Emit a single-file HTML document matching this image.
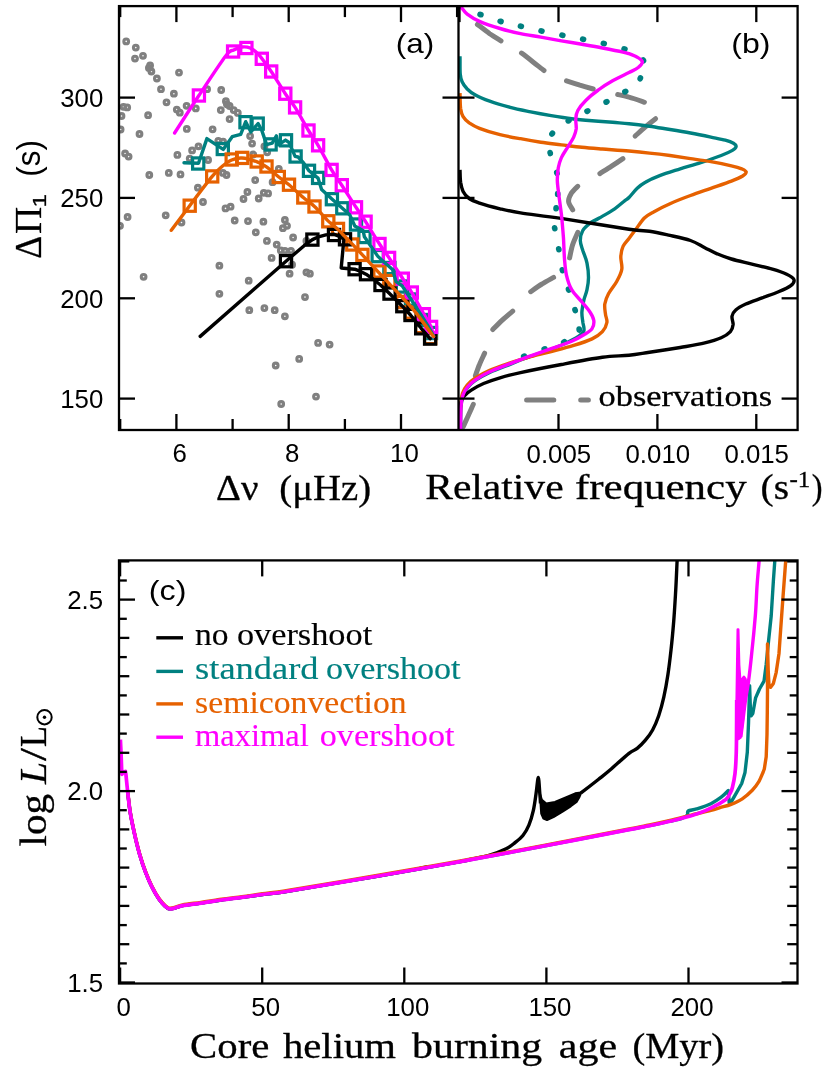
<!DOCTYPE html>
<html><head><meta charset="utf-8"><title>figure</title>
<style>
html,body{margin:0;padding:0;background:#fff;}
body{width:830px;height:1078px;overflow:hidden;font-family:"Liberation Sans",sans-serif;}
svg{display:block;will-change:transform;}
</style></head><body>
<svg width="830" height="1078" viewBox="0 0 830 1078">
<defs>
<clipPath id="clipA"><rect x="119.0" y="6.1" width="339.5" height="423.9"/></clipPath>
<clipPath id="clipB"><rect x="458.5" y="6.1" width="339.1" height="423.9"/></clipPath>
<clipPath id="clipC"><rect x="119.0" y="560.4" width="678.5" height="423.1"/></clipPath>
</defs>
<rect x="0" y="0" width="830" height="1078" fill="#fff"/>
<g clip-path="url(#clipA)">
<circle cx="126.2" cy="41.4" r="2.35" fill="none" stroke="#808080" stroke-width="3.1"/>
<circle cx="135.8" cy="47.6" r="2.35" fill="none" stroke="#808080" stroke-width="3.1"/>
<circle cx="135" cy="58.6" r="2.35" fill="none" stroke="#808080" stroke-width="3.1"/>
<circle cx="143" cy="55.8" r="2.35" fill="none" stroke="#808080" stroke-width="3.1"/>
<circle cx="150.1" cy="65.4" r="2.35" fill="none" stroke="#808080" stroke-width="3.1"/>
<circle cx="148.9" cy="67.9" r="2.35" fill="none" stroke="#808080" stroke-width="3.1"/>
<circle cx="151.4" cy="71.5" r="2.35" fill="none" stroke="#808080" stroke-width="3.1"/>
<circle cx="156.9" cy="78.5" r="2.35" fill="none" stroke="#808080" stroke-width="3.1"/>
<circle cx="179" cy="72.6" r="2.35" fill="none" stroke="#808080" stroke-width="3.1"/>
<circle cx="161" cy="89.2" r="2.35" fill="none" stroke="#808080" stroke-width="3.1"/>
<circle cx="173.9" cy="93.7" r="2.35" fill="none" stroke="#808080" stroke-width="3.1"/>
<circle cx="166.5" cy="102.3" r="2.35" fill="none" stroke="#808080" stroke-width="3.1"/>
<circle cx="207.1" cy="89.2" r="2.35" fill="none" stroke="#808080" stroke-width="3.1"/>
<circle cx="221.2" cy="90" r="2.35" fill="none" stroke="#808080" stroke-width="3.1"/>
<circle cx="186.6" cy="105.8" r="2.35" fill="none" stroke="#808080" stroke-width="3.1"/>
<circle cx="195.8" cy="108.4" r="2.35" fill="none" stroke="#808080" stroke-width="3.1"/>
<circle cx="176.8" cy="109.6" r="2.35" fill="none" stroke="#808080" stroke-width="3.1"/>
<circle cx="179.8" cy="112.7" r="2.35" fill="none" stroke="#808080" stroke-width="3.1"/>
<circle cx="225.9" cy="101.2" r="2.35" fill="none" stroke="#808080" stroke-width="3.1"/>
<circle cx="226.9" cy="104.3" r="2.35" fill="none" stroke="#808080" stroke-width="3.1"/>
<circle cx="229.6" cy="106" r="2.35" fill="none" stroke="#808080" stroke-width="3.1"/>
<circle cx="220.8" cy="110.1" r="2.35" fill="none" stroke="#808080" stroke-width="3.1"/>
<circle cx="233.7" cy="110.1" r="2.35" fill="none" stroke="#808080" stroke-width="3.1"/>
<circle cx="237.8" cy="112.9" r="2.35" fill="none" stroke="#808080" stroke-width="3.1"/>
<circle cx="229.6" cy="119.1" r="2.35" fill="none" stroke="#808080" stroke-width="3.1"/>
<circle cx="123.5" cy="106.8" r="2.35" fill="none" stroke="#808080" stroke-width="3.1"/>
<circle cx="127.2" cy="107.4" r="2.35" fill="none" stroke="#808080" stroke-width="3.1"/>
<circle cx="121.5" cy="116" r="2.35" fill="none" stroke="#808080" stroke-width="3.1"/>
<circle cx="148.1" cy="115.2" r="2.35" fill="none" stroke="#808080" stroke-width="3.1"/>
<circle cx="120.6" cy="129.5" r="2.35" fill="none" stroke="#808080" stroke-width="3.1"/>
<circle cx="139.5" cy="134" r="2.35" fill="none" stroke="#808080" stroke-width="3.1"/>
<circle cx="186.8" cy="128.9" r="2.35" fill="none" stroke="#808080" stroke-width="3.1"/>
<circle cx="212.6" cy="129.3" r="2.35" fill="none" stroke="#808080" stroke-width="3.1"/>
<circle cx="250.1" cy="136.1" r="2.35" fill="none" stroke="#808080" stroke-width="3.1"/>
<circle cx="218.3" cy="140.8" r="2.35" fill="none" stroke="#808080" stroke-width="3.1"/>
<circle cx="223.1" cy="141.6" r="2.35" fill="none" stroke="#808080" stroke-width="3.1"/>
<circle cx="252.1" cy="143.6" r="2.35" fill="none" stroke="#808080" stroke-width="3.1"/>
<circle cx="198.5" cy="146.3" r="2.35" fill="none" stroke="#808080" stroke-width="3.1"/>
<circle cx="192.1" cy="150.4" r="2.35" fill="none" stroke="#808080" stroke-width="3.1"/>
<circle cx="177.4" cy="154.9" r="2.35" fill="none" stroke="#808080" stroke-width="3.1"/>
<circle cx="125.1" cy="153.5" r="2.35" fill="none" stroke="#808080" stroke-width="3.1"/>
<circle cx="128.6" cy="156.6" r="2.35" fill="none" stroke="#808080" stroke-width="3.1"/>
<circle cx="189.7" cy="158.6" r="2.35" fill="none" stroke="#808080" stroke-width="3.1"/>
<circle cx="208.1" cy="160" r="2.35" fill="none" stroke="#808080" stroke-width="3.1"/>
<circle cx="264.4" cy="146.3" r="2.35" fill="none" stroke="#808080" stroke-width="3.1"/>
<circle cx="253.2" cy="154.5" r="2.35" fill="none" stroke="#808080" stroke-width="3.1"/>
<circle cx="267.2" cy="152.3" r="2.35" fill="none" stroke="#808080" stroke-width="3.1"/>
<circle cx="149.3" cy="175" r="2.35" fill="none" stroke="#808080" stroke-width="3.1"/>
<circle cx="168.8" cy="172.9" r="2.35" fill="none" stroke="#808080" stroke-width="3.1"/>
<circle cx="180.5" cy="174.4" r="2.35" fill="none" stroke="#808080" stroke-width="3.1"/>
<circle cx="222.9" cy="172.9" r="2.35" fill="none" stroke="#808080" stroke-width="3.1"/>
<circle cx="226.5" cy="175" r="2.35" fill="none" stroke="#808080" stroke-width="3.1"/>
<circle cx="255.2" cy="180.1" r="2.35" fill="none" stroke="#808080" stroke-width="3.1"/>
<circle cx="278.8" cy="168.8" r="2.35" fill="none" stroke="#808080" stroke-width="3.1"/>
<circle cx="272.6" cy="182.2" r="2.35" fill="none" stroke="#808080" stroke-width="3.1"/>
<circle cx="197.9" cy="187.7" r="2.35" fill="none" stroke="#808080" stroke-width="3.1"/>
<circle cx="247.4" cy="192" r="2.35" fill="none" stroke="#808080" stroke-width="3.1"/>
<circle cx="243.5" cy="199" r="2.35" fill="none" stroke="#808080" stroke-width="3.1"/>
<circle cx="258.7" cy="198.5" r="2.35" fill="none" stroke="#808080" stroke-width="3.1"/>
<circle cx="263.8" cy="192.8" r="2.35" fill="none" stroke="#808080" stroke-width="3.1"/>
<circle cx="268.1" cy="193.4" r="2.35" fill="none" stroke="#808080" stroke-width="3.1"/>
<circle cx="203" cy="202" r="2.35" fill="none" stroke="#808080" stroke-width="3.1"/>
<circle cx="225.5" cy="208.4" r="2.35" fill="none" stroke="#808080" stroke-width="3.1"/>
<circle cx="230.6" cy="206.7" r="2.35" fill="none" stroke="#808080" stroke-width="3.1"/>
<circle cx="165.7" cy="215.3" r="2.35" fill="none" stroke="#808080" stroke-width="3.1"/>
<circle cx="127.6" cy="217" r="2.35" fill="none" stroke="#808080" stroke-width="3.1"/>
<circle cx="120" cy="225.8" r="2.35" fill="none" stroke="#808080" stroke-width="3.1"/>
<circle cx="181.5" cy="222.5" r="2.35" fill="none" stroke="#808080" stroke-width="3.1"/>
<circle cx="234.7" cy="220.5" r="2.35" fill="none" stroke="#808080" stroke-width="3.1"/>
<circle cx="248" cy="221.1" r="2.35" fill="none" stroke="#808080" stroke-width="3.1"/>
<circle cx="263.4" cy="221.7" r="2.35" fill="none" stroke="#808080" stroke-width="3.1"/>
<circle cx="284.9" cy="220" r="2.35" fill="none" stroke="#808080" stroke-width="3.1"/>
<circle cx="282.9" cy="228.2" r="2.35" fill="none" stroke="#808080" stroke-width="3.1"/>
<circle cx="287" cy="225.8" r="2.35" fill="none" stroke="#808080" stroke-width="3.1"/>
<circle cx="255.8" cy="232.3" r="2.35" fill="none" stroke="#808080" stroke-width="3.1"/>
<circle cx="266.9" cy="240.9" r="2.35" fill="none" stroke="#808080" stroke-width="3.1"/>
<circle cx="276.7" cy="244.6" r="2.35" fill="none" stroke="#808080" stroke-width="3.1"/>
<circle cx="280.8" cy="250.4" r="2.35" fill="none" stroke="#808080" stroke-width="3.1"/>
<circle cx="284.9" cy="250.8" r="2.35" fill="none" stroke="#808080" stroke-width="3.1"/>
<circle cx="271.6" cy="257.9" r="2.35" fill="none" stroke="#808080" stroke-width="3.1"/>
<circle cx="219.4" cy="265.7" r="2.35" fill="none" stroke="#808080" stroke-width="3.1"/>
<circle cx="143.6" cy="276.8" r="2.35" fill="none" stroke="#808080" stroke-width="3.1"/>
<circle cx="248.7" cy="280.7" r="2.35" fill="none" stroke="#808080" stroke-width="3.1"/>
<circle cx="219.4" cy="293.8" r="2.35" fill="none" stroke="#808080" stroke-width="3.1"/>
<circle cx="249.3" cy="310.2" r="2.35" fill="none" stroke="#808080" stroke-width="3.1"/>
<circle cx="264.4" cy="308.1" r="2.35" fill="none" stroke="#808080" stroke-width="3.1"/>
<circle cx="274.7" cy="310.2" r="2.35" fill="none" stroke="#808080" stroke-width="3.1"/>
<circle cx="284.9" cy="316.3" r="2.35" fill="none" stroke="#808080" stroke-width="3.1"/>
<circle cx="275.7" cy="365.5" r="2.35" fill="none" stroke="#808080" stroke-width="3.1"/>
<circle cx="281.2" cy="404" r="2.35" fill="none" stroke="#808080" stroke-width="3.1"/>
<circle cx="293.1" cy="237.5" r="2.35" fill="none" stroke="#808080" stroke-width="3.1"/>
<circle cx="291" cy="250.8" r="2.35" fill="none" stroke="#808080" stroke-width="3.1"/>
<circle cx="292.1" cy="264.7" r="2.35" fill="none" stroke="#808080" stroke-width="3.1"/>
<circle cx="289.6" cy="273.7" r="2.35" fill="none" stroke="#808080" stroke-width="3.1"/>
<circle cx="306.4" cy="272.3" r="2.35" fill="none" stroke="#808080" stroke-width="3.1"/>
<circle cx="309.9" cy="273.7" r="2.35" fill="none" stroke="#808080" stroke-width="3.1"/>
<circle cx="305" cy="297.1" r="2.35" fill="none" stroke="#808080" stroke-width="3.1"/>
<circle cx="318.1" cy="342.9" r="2.35" fill="none" stroke="#808080" stroke-width="3.1"/>
<circle cx="329.6" cy="344.6" r="2.35" fill="none" stroke="#808080" stroke-width="3.1"/>
<circle cx="299.2" cy="358.9" r="2.35" fill="none" stroke="#808080" stroke-width="3.1"/>
<circle cx="316" cy="396.6" r="2.35" fill="none" stroke="#808080" stroke-width="3.1"/>
<circle cx="306.4" cy="240.9" r="2.35" fill="none" stroke="#808080" stroke-width="3.1"/>
<rect x="192.6" y="157.9" width="11.2" height="11.2" fill="none" stroke="#008080" stroke-width="3.2"/>
<rect x="217.2" y="143.4" width="11.2" height="11.2" fill="none" stroke="#008080" stroke-width="3.2"/>
<rect x="239.9" y="116.6" width="11.2" height="11.2" fill="none" stroke="#008080" stroke-width="3.2"/>
<rect x="252.1" y="118" width="11.2" height="11.2" fill="none" stroke="#008080" stroke-width="3.2"/>
<rect x="265" y="138.8" width="11.2" height="11.2" fill="none" stroke="#008080" stroke-width="3.2"/>
<rect x="280.4" y="134.7" width="11.2" height="11.2" fill="none" stroke="#008080" stroke-width="3.2"/>
<rect x="290" y="150.9" width="11.2" height="11.2" fill="none" stroke="#008080" stroke-width="3.2"/>
<rect x="303.4" y="165.2" width="11.2" height="11.2" fill="none" stroke="#008080" stroke-width="3.2"/>
<rect x="312.5" y="172.3" width="11.2" height="11.2" fill="none" stroke="#008080" stroke-width="3.2"/>
<rect x="326.3" y="193.6" width="11.2" height="11.2" fill="none" stroke="#008080" stroke-width="3.2"/>
<rect x="336.7" y="202.7" width="11.2" height="11.2" fill="none" stroke="#008080" stroke-width="3.2"/>
<rect x="350.4" y="218.9" width="11.2" height="11.2" fill="none" stroke="#008080" stroke-width="3.2"/>
<rect x="358.9" y="231.4" width="11.2" height="11.2" fill="none" stroke="#008080" stroke-width="3.2"/>
<rect x="372.1" y="250.5" width="11.2" height="11.2" fill="none" stroke="#008080" stroke-width="3.2"/>
<rect x="383.8" y="262.4" width="11.2" height="11.2" fill="none" stroke="#008080" stroke-width="3.2"/>
<rect x="396.4" y="280.9" width="11.2" height="11.2" fill="none" stroke="#008080" stroke-width="3.2"/>
<rect x="405.4" y="293.9" width="11.2" height="11.2" fill="none" stroke="#008080" stroke-width="3.2"/>
<rect x="417.4" y="314.4" width="11.2" height="11.2" fill="none" stroke="#008080" stroke-width="3.2"/>
<rect x="425.4" y="327.4" width="11.2" height="11.2" fill="none" stroke="#008080" stroke-width="3.2"/>
<rect x="184.1" y="200.1" width="11.2" height="11.2" fill="none" stroke="#e66100" stroke-width="3.2"/>
<rect x="206.6" y="170.8" width="11.2" height="11.2" fill="none" stroke="#e66100" stroke-width="3.2"/>
<rect x="226.1" y="153.9" width="11.2" height="11.2" fill="none" stroke="#e66100" stroke-width="3.2"/>
<rect x="236.6" y="152.3" width="11.2" height="11.2" fill="none" stroke="#e66100" stroke-width="3.2"/>
<rect x="251.1" y="155.9" width="11.2" height="11.2" fill="none" stroke="#e66100" stroke-width="3.2"/>
<rect x="260.9" y="160.9" width="11.2" height="11.2" fill="none" stroke="#e66100" stroke-width="3.2"/>
<rect x="273.2" y="171.4" width="11.2" height="11.2" fill="none" stroke="#e66100" stroke-width="3.2"/>
<rect x="283.4" y="179.1" width="11.2" height="11.2" fill="none" stroke="#e66100" stroke-width="3.2"/>
<rect x="297.7" y="191.9" width="11.2" height="11.2" fill="none" stroke="#e66100" stroke-width="3.2"/>
<rect x="308.9" y="200.9" width="11.2" height="11.2" fill="none" stroke="#e66100" stroke-width="3.2"/>
<rect x="322.7" y="215.7" width="11.2" height="11.2" fill="none" stroke="#e66100" stroke-width="3.2"/>
<rect x="332.4" y="223.3" width="11.2" height="11.2" fill="none" stroke="#e66100" stroke-width="3.2"/>
<rect x="346.7" y="238.9" width="11.2" height="11.2" fill="none" stroke="#e66100" stroke-width="3.2"/>
<rect x="356.8" y="249.3" width="11.2" height="11.2" fill="none" stroke="#e66100" stroke-width="3.2"/>
<rect x="373.9" y="265.9" width="11.2" height="11.2" fill="none" stroke="#e66100" stroke-width="3.2"/>
<rect x="383.7" y="275.4" width="11.2" height="11.2" fill="none" stroke="#e66100" stroke-width="3.2"/>
<rect x="396.8" y="296.4" width="11.2" height="11.2" fill="none" stroke="#e66100" stroke-width="3.2"/>
<rect x="405.2" y="306.9" width="11.2" height="11.2" fill="none" stroke="#e66100" stroke-width="3.2"/>
<rect x="415.7" y="321.4" width="11.2" height="11.2" fill="none" stroke="#e66100" stroke-width="3.2"/>
<rect x="424.6" y="332.4" width="11.2" height="11.2" fill="none" stroke="#e66100" stroke-width="3.2"/>
<rect x="280.4" y="255.6" width="11.2" height="11.2" fill="none" stroke="#000" stroke-width="3.2"/>
<rect x="306.8" y="234" width="11.2" height="11.2" fill="none" stroke="#000" stroke-width="3.2"/>
<rect x="328.4" y="229.4" width="11.2" height="11.2" fill="none" stroke="#000" stroke-width="3.2"/>
<rect x="339.4" y="233.7" width="11.2" height="11.2" fill="none" stroke="#000" stroke-width="3.2"/>
<rect x="349" y="263.6" width="11.2" height="11.2" fill="none" stroke="#000" stroke-width="3.2"/>
<rect x="360.4" y="268.6" width="11.2" height="11.2" fill="none" stroke="#000" stroke-width="3.2"/>
<rect x="374.9" y="279.4" width="11.2" height="11.2" fill="none" stroke="#000" stroke-width="3.2"/>
<rect x="383.9" y="288" width="11.2" height="11.2" fill="none" stroke="#000" stroke-width="3.2"/>
<rect x="396.7" y="300.6" width="11.2" height="11.2" fill="none" stroke="#000" stroke-width="3.2"/>
<rect x="404.9" y="309.4" width="11.2" height="11.2" fill="none" stroke="#000" stroke-width="3.2"/>
<rect x="415.6" y="322.7" width="11.2" height="11.2" fill="none" stroke="#000" stroke-width="3.2"/>
<rect x="424.5" y="333" width="11.2" height="11.2" fill="none" stroke="#000" stroke-width="3.2"/>
<rect x="193.3" y="89.9" width="11.2" height="11.2" fill="none" stroke="#ff00ff" stroke-width="3.2"/>
<rect x="227.5" y="45.9" width="11.2" height="11.2" fill="none" stroke="#ff00ff" stroke-width="3.2"/>
<rect x="240.8" y="42.4" width="11.2" height="11.2" fill="none" stroke="#ff00ff" stroke-width="3.2"/>
<rect x="256.2" y="53.2" width="11.2" height="11.2" fill="none" stroke="#ff00ff" stroke-width="3.2"/>
<rect x="265.6" y="65.9" width="11.2" height="11.2" fill="none" stroke="#ff00ff" stroke-width="3.2"/>
<rect x="279.7" y="88.1" width="11.2" height="11.2" fill="none" stroke="#ff00ff" stroke-width="3.2"/>
<rect x="289.5" y="101.8" width="11.2" height="11.2" fill="none" stroke="#ff00ff" stroke-width="3.2"/>
<rect x="302.9" y="124.9" width="11.2" height="11.2" fill="none" stroke="#ff00ff" stroke-width="3.2"/>
<rect x="312.5" y="139.7" width="11.2" height="11.2" fill="none" stroke="#ff00ff" stroke-width="3.2"/>
<rect x="326" y="164.3" width="11.2" height="11.2" fill="none" stroke="#ff00ff" stroke-width="3.2"/>
<rect x="336.2" y="179.6" width="11.2" height="11.2" fill="none" stroke="#ff00ff" stroke-width="3.2"/>
<rect x="350.4" y="201.7" width="11.2" height="11.2" fill="none" stroke="#ff00ff" stroke-width="3.2"/>
<rect x="360" y="216.1" width="11.2" height="11.2" fill="none" stroke="#ff00ff" stroke-width="3.2"/>
<rect x="373.9" y="238.4" width="11.2" height="11.2" fill="none" stroke="#ff00ff" stroke-width="3.2"/>
<rect x="383.5" y="252.3" width="11.2" height="11.2" fill="none" stroke="#ff00ff" stroke-width="3.2"/>
<rect x="397.2" y="273.1" width="11.2" height="11.2" fill="none" stroke="#ff00ff" stroke-width="3.2"/>
<rect x="406.2" y="286.9" width="11.2" height="11.2" fill="none" stroke="#ff00ff" stroke-width="3.2"/>
<rect x="418.3" y="308.6" width="11.2" height="11.2" fill="none" stroke="#ff00ff" stroke-width="3.2"/>
<rect x="425.5" y="321.3" width="11.2" height="11.2" fill="none" stroke="#ff00ff" stroke-width="3.2"/>
<path d="M200.2 336.4 L286 261.2 L304.1 245.7 L312.4 239.6 L318.5 236.8 L325.8 234.9 L334.2 234.3 L340.2 236.7 L343.9 239.1 L341.2 268 L354.6 269.2 L360 271.2 L366 274.2 L373 279 L380.5 285 L389.5 293.6 L402.3 306.2 L410.5 315 L421.2 328.3 L430.1 338.6" fill="none" stroke="#000" stroke-width="3.4" stroke-linejoin="round" stroke-linecap="round"/>
<path d="M174.6 133 C178.7 126.8 190.4 108.3 198.9 95.5 C207.4 82.7 219.7 63.8 225.5 56.2 C231.3 48.6 231 51.5 233.7 50 C236.4 48.5 239.2 47.3 241.9 47 C244.6 46.7 247.4 46.8 250.1 48 C252.8 49.2 254.8 50.2 258.3 54.1 C261.8 58 266.7 64.9 271.2 71.5 C275.7 78.1 281.3 87.7 285.3 93.7 C289.3 99.7 291.2 101.3 295.1 107.4 C299 113.5 304.7 124.2 308.5 130.5 C312.3 136.8 314.2 138.7 318.1 145.3 C322 151.9 327.7 163.2 331.6 169.9 C335.6 176.6 337.7 179 341.8 185.2 C345.9 191.4 352 201.2 356 207.3 C360 213.4 361.7 215.6 365.6 221.7 C369.5 227.8 375.6 238 379.5 244 C383.4 250 385.2 252.1 389.1 257.9 C393 263.7 399 272.9 402.8 278.7 C406.6 284.5 408.3 286.6 411.8 292.5 C415.3 298.4 420.7 308.5 423.9 314.2 C427.1 319.9 429.5 323.2 431.1 326.9 C432.7 330.6 433.1 334.9 433.5 336.5" fill="none" stroke="#ff00ff" stroke-width="3.4" stroke-linejoin="round" stroke-linecap="round"/>
<path d="M184 162.8 L198.5 163.3 L206.9 138.6 L223.2 149.4 L232.2 136.7 L240.7 134.3 L245.7 121.7 L250.9 131.9 L258.1 123.5 L261.7 130.1 L266.6 144.6 L272.2 143.1 L276.4 135.9 L278.3 144.9 L285.5 140.1 L289.1 142.5 L295.1 156.4 L298.1 157 L303.6 163 L309 170.8 L318 178.1 L321.6 189.5 L331.9 198.9 L342.1 207.9 L349.9 215.1 L354.8 226 L363.2 230.8 L364.4 236.8 L377.7 256.1 L381.7 260 L392.5 269.6 L396.1 281.7 L402.2 285.9 L413 302.2 L427.5 325.1 L433.5 335.9" fill="none" stroke="#008080" stroke-width="3.4" stroke-linejoin="round" stroke-linecap="round"/>
<path d="M171.3 230.3 C174.4 226.2 182.9 214.7 189.7 205.7 C196.5 196.7 206.8 182.9 212.2 176.4 C217.6 169.9 218.8 169.2 222 166.5 C225.2 163.8 228.4 161.4 231.7 160 C235 158.6 237.8 157.7 241.9 158 C246.1 158.3 252.5 160.2 256.6 161.7 C260.7 163.2 262.8 164.2 266.5 166.8 C270.2 169.4 275.1 174 278.8 177 C282.6 180 284.9 181.3 289 184.7 C293.1 188.1 299.1 193.9 303.3 197.5 C307.6 201.1 310.3 202.6 314.5 206.5 C318.7 210.4 324.4 217.3 328.3 221.1 C332.2 224.9 334 225.6 338 229.4 C342 233.2 348.2 239.9 352.3 244.2 C356.4 248.4 357.5 249.7 362.4 254.9 C367.3 260.1 375.5 269 381.7 275.7 C387.9 282.4 394.4 289.1 399.8 294.9 C405.2 300.7 408.6 303.7 414.2 310.6 C419.8 317.5 430.3 332.2 433.5 336.5" fill="none" stroke="#e66100" stroke-width="3.4" stroke-linejoin="round" stroke-linecap="round"/>
</g>
<g clip-path="url(#clipB)">
<path d="M477.4 24.4 C479.5 26 485.8 30.9 489.7 33.7 C493.7 36.4 499.1 39.6 501 40.8" fill="none" stroke="#808080" stroke-width="5.0" stroke-linecap="round"/>
<path d="M521.5 53.1 C523.4 54.5 529 58.8 532.7 61.7 C536.5 64.6 542.1 69.1 544 70.5" fill="none" stroke="#808080" stroke-width="5.0" stroke-linecap="round"/>
<path d="M566.5 80.8 C568.8 81.5 575.4 83.7 579.9 85.1 C584.3 86.4 590.9 88.3 593.2 89" fill="none" stroke="#808080" stroke-width="5.0" stroke-linecap="round"/>
<path d="M617.7 94.5 C619.6 94.9 624.6 95.9 629 97.2 C633.5 98.4 641.8 101.4 644.4 102.3" fill="none" stroke="#808080" stroke-width="5.0" stroke-linecap="round"/>
<path d="M655.6 118.7 C653.9 120 648.8 124 645.4 126.9 C642 129.8 636.9 134.5 635.1 136.1" fill="none" stroke="#808080" stroke-width="5.0" stroke-linecap="round"/>
<path d="M622.9 158.6 C621 159.9 615.4 163.7 611.6 166.2 C607.8 168.7 601.9 172.3 599.9 173.6" fill="none" stroke="#808080" stroke-width="5.0" stroke-linecap="round"/>
<path d="M577.8 186.3 C576.7 187.4 572.8 190.9 571.2 193.4 C569.7 196 568.3 198.9 568.6 201.6 C568.8 204.3 572 208.4 572.7 209.8" fill="none" stroke="#808080" stroke-width="5.0" stroke-linecap="round"/>
<path d="M577.8 232.3 C577 234.4 574 240.4 572.7 244.6 C571.3 248.9 570.1 255.7 569.6 257.9" fill="none" stroke="#808080" stroke-width="5.0" stroke-linecap="round"/>
<path d="M553.6 277.4 C551.7 278.5 545.8 281.6 542 284 C538.1 286.3 532.6 290.4 530.7 291.7" fill="none" stroke="#808080" stroke-width="5.0" stroke-linecap="round"/>
<path d="M512.7 311.2 C510.9 312.7 505.3 317.3 502 320.4 C498.7 323.5 494.3 328.1 492.8 329.6" fill="none" stroke="#808080" stroke-width="5.0" stroke-linecap="round"/>
<path d="M484.6 353.2 C483.8 355.1 481 360.7 479.5 364.5 C477.9 368.2 476.1 373.8 475.4 375.7" fill="none" stroke="#808080" stroke-width="5.0" stroke-linecap="round"/>
<path d="M473.3 404.4 C472.5 406.3 469.9 411.9 468.2 415.7 C466.5 419.4 464 425.1 463.1 426.9" fill="none" stroke="#808080" stroke-width="5.0" stroke-linecap="round"/>
<path d="M460 56.2 C460.1 59.1 459.9 69.3 460.2 73.6 C460.6 77.9 460.9 79.2 462.1 81.8 C463.2 84.3 465 86.7 467.2 89 C469.4 91.2 471.6 93.1 475.4 95.1 C479.1 97.2 483.9 99.2 489.7 101.2 C495.5 103.3 503.4 105.6 510.2 107.4 C517 109.2 523.9 110.5 530.7 111.9 C537.5 113.3 544.3 114.5 551.2 115.6 C558 116.7 564.8 117.8 571.7 118.7 C578.5 119.5 585.3 120.1 592.1 120.7 C599 121.3 606.5 121.8 612.6 122.3 C618.8 122.9 622.9 123.1 629 123.8 C635.2 124.4 642.7 125.3 649.5 126.2 C656.3 127.2 663.1 128.4 670 129.5 C676.8 130.6 683.6 131.7 690.5 133 C697.3 134.3 705.1 135.9 710.9 137.1 C716.7 138.3 721.5 139.1 725.3 140.2 C729 141.2 731.7 142.2 733.5 143.2 C735.3 144.3 736.3 145.1 736.1 146.3 C736 147.5 734.9 148.9 732.4 150.4 C729.9 151.9 726.5 153.5 721.2 155.5 C715.9 157.6 707.5 160.5 700.7 162.7 C693.9 164.9 687 166.7 680.2 168.8 C673.4 171 665.5 173.4 659.7 175.6 C653.9 177.8 649.1 180 645.4 182.2 C641.6 184.3 639.9 185.7 637.2 188.3 C634.5 190.9 631 195.5 629 197.5 C627 199.6 627.3 198.7 624.9 200.6 C622.5 202.5 618.9 205.9 614.7 208.8 C610.4 211.7 603.4 215.6 599.3 218 C595.2 220.4 592.8 221.1 590.1 223.1 C587.4 225.2 584.6 227.4 582.9 230.3 C581.3 233.2 580.3 237.1 580.3 240.5 C580.3 243.9 581.8 247 582.9 250.8 C584.1 254.5 586.1 258.6 587 263.1 C587.9 267.5 588.5 273 588.5 277.4 C588.5 281.8 587.8 285.9 587 289.7 C586.3 293.4 584.8 296.2 583.9 299.9 C583.1 303.7 582.1 308.5 581.9 312.2 C581.7 316 582.6 319.4 582.9 322.5 C583.3 325.5 584.6 328.4 583.9 330.7 C583.3 332.9 582.1 334 578.8 336.2 C575.5 338.4 569.8 341.4 564.1 344 C558.4 346.5 551.3 349.1 544.6 351.6 C538 354 529.9 356.6 524.1 358.7 C518.4 360.8 515.9 362 510.2 364.3 C504.5 366.5 495.5 369.7 489.7 372.4 C483.9 375.1 479.1 377.9 475.4 380.4 C471.7 383 469.7 385.1 467.6 387.6 C465.6 390.1 464.2 392.2 463.1 395.4 C462 398.5 461.5 400.7 461 406.4 C460.6 412.2 460.7 426.1 460.6 430" fill="none" stroke="#008080" stroke-width="3.4" stroke-linejoin="round"/>
<path d="M460 93.1 C460.1 95.6 460.1 104.5 460.6 108.4 C461.2 112.3 461.7 114.2 463.1 116.6 C464.5 119 466.5 120.8 469.2 122.8 C472 124.7 474.4 126.3 479.5 128.3 C484.6 130.3 493.1 132.9 500 134.6 C506.8 136.4 513.6 137.5 520.5 138.7 C527.3 140 534.1 141.2 540.9 142.2 C547.8 143.2 554.6 144 561.4 144.9 C568.2 145.7 575.1 146.7 581.9 147.3 C588.7 148 594.5 148.4 602.4 149 C610.2 149.6 621.2 150.3 629 151 C636.9 151.7 642.7 152.3 649.5 153.1 C656.3 153.8 663.1 154.6 670 155.5 C676.8 156.5 683.6 157.6 690.5 158.6 C697.3 159.6 704.1 160.5 710.9 161.7 C717.8 162.9 726.3 164.6 731.4 165.8 C736.5 167 739.2 167.8 741.7 168.8 C744.1 169.9 746 170.7 746.2 171.9 C746.3 173.1 745.1 174.5 742.7 176 C740.2 177.5 736.7 179.1 731.4 181.1 C726.1 183.2 717.8 185.9 710.9 188.3 C704.1 190.7 697.3 192.9 690.5 195.5 C683.6 198 676.1 200.9 670 203.7 C663.8 206.4 657.8 209.5 653.6 211.9 C649.3 214.2 647.4 214.9 644.4 218 C641.3 221.1 637.7 226.9 635.1 230.3 C632.6 233.7 631 235.8 629 238.5 C627 241.2 624.2 243.6 622.9 246.7 C621.5 249.7 621 253.2 620.8 256.9 C620.6 260.7 622.5 265.1 621.8 269.2 C621.2 273.3 618.9 277.4 616.7 281.5 C614.5 285.6 610.5 290 608.5 293.8 C606.5 297.5 605.4 300.6 604.8 304 C604.3 307.4 605.1 311.2 605.5 314.3 C605.8 317.3 607.4 319.6 606.9 322.5 C606.4 325.4 604.8 329 602.4 331.7 C599.9 334.4 596.9 336.6 592.1 338.9 C587.4 341.1 580.5 343.3 573.7 345.4 C566.9 347.5 558.3 349.7 551.2 351.6 C544 353.4 537.5 354.8 530.7 356.7 C523.9 358.6 517 360.6 510.2 362.8 C503.4 365.1 495.5 367.7 489.7 370.2 C483.9 372.7 479.1 375.5 475.4 378 C471.6 380.5 469.3 382.6 467.2 385.1 C465 387.7 463.6 390 462.5 393.3 C461.4 396.7 461 399.3 460.6 405.4 C460.3 411.5 460.3 425.9 460.2 430" fill="none" stroke="#e66100" stroke-width="3.4" stroke-linejoin="round"/>
<ellipse cx="480.5" cy="14.6" rx="3.3" ry="2.9" fill="#008080" transform="rotate(14 480.5 14.6)"/>
<ellipse cx="500.6" cy="21.4" rx="3.3" ry="2.9" fill="#008080" transform="rotate(14 500.6 21.4)"/>
<ellipse cx="520.9" cy="26.3" rx="3.3" ry="2.9" fill="#008080" transform="rotate(14 520.9 26.3)"/>
<ellipse cx="541.5" cy="31" rx="3.3" ry="2.9" fill="#008080" transform="rotate(14 541.5 31)"/>
<ellipse cx="562.4" cy="35.3" rx="3.3" ry="2.9" fill="#008080" transform="rotate(14 562.4 35.3)"/>
<ellipse cx="583.1" cy="39.2" rx="3.3" ry="2.9" fill="#008080" transform="rotate(14 583.1 39.2)"/>
<ellipse cx="603.8" cy="43.5" rx="3.3" ry="2.9" fill="#008080" transform="rotate(14 603.8 43.5)"/>
<ellipse cx="624.5" cy="49" rx="3.3" ry="2.9" fill="#008080" transform="rotate(14 624.5 49)"/>
<ellipse cx="643.3" cy="60.3" rx="3.3" ry="2.9" fill="#008080" transform="rotate(60 643.3 60.3)"/>
<ellipse cx="640.3" cy="78.3" rx="3.3" ry="2.9" fill="#008080" transform="rotate(110 640.3 78.3)"/>
<ellipse cx="625.3" cy="91.6" rx="3.3" ry="2.9" fill="#008080" transform="rotate(-28 625.3 91.6)"/>
<ellipse cx="606.5" cy="101.9" rx="3.3" ry="2.9" fill="#008080" transform="rotate(-28 606.5 101.9)"/>
<ellipse cx="587.4" cy="111.1" rx="3.3" ry="2.9" fill="#008080" transform="rotate(-27 587.4 111.1)"/>
<ellipse cx="568.6" cy="120.7" rx="3.3" ry="2.9" fill="#008080" transform="rotate(-30 568.6 120.7)"/>
<ellipse cx="552.2" cy="133.6" rx="3.3" ry="2.9" fill="#008080" transform="rotate(-50 552.2 133.6)"/>
<ellipse cx="550.2" cy="153.1" rx="3.3" ry="2.9" fill="#008080" transform="rotate(80 550.2 153.1)"/>
<ellipse cx="556.9" cy="172.9" rx="3.3" ry="2.9" fill="#008080" transform="rotate(70 556.9 172.9)"/>
<ellipse cx="557.7" cy="194" rx="3.3" ry="2.9" fill="#008080" transform="rotate(90 557.7 194)"/>
<ellipse cx="556.1" cy="208.2" rx="3.3" ry="2.9" fill="#008080" transform="rotate(95 556.1 208.2)"/>
<ellipse cx="554.7" cy="228.2" rx="3.3" ry="2.9" fill="#008080" transform="rotate(80 554.7 228.2)"/>
<ellipse cx="558.8" cy="249.3" rx="3.3" ry="2.9" fill="#008080" transform="rotate(80 558.8 249.3)"/>
<ellipse cx="562.4" cy="270.2" rx="3.3" ry="2.9" fill="#008080" transform="rotate(78 562.4 270.2)"/>
<ellipse cx="568.6" cy="289.7" rx="3.3" ry="2.9" fill="#008080" transform="rotate(72 568.6 289.7)"/>
<ellipse cx="575.1" cy="310.2" rx="3.3" ry="2.9" fill="#008080" transform="rotate(72 575.1 310.2)"/>
<ellipse cx="579.2" cy="329.6" rx="3.3" ry="2.9" fill="#008080" transform="rotate(85 579.2 329.6)"/>
<ellipse cx="564.1" cy="341.9" rx="3.3" ry="2.9" fill="#008080" transform="rotate(-30 564.1 341.9)"/>
<ellipse cx="544.6" cy="349.1" rx="3.3" ry="2.9" fill="#008080" transform="rotate(-20 544.6 349.1)"/>
<ellipse cx="524.1" cy="356.3" rx="3.3" ry="2.9" fill="#008080" transform="rotate(-20 524.1 356.3)"/>
<path d="M460 169.9 C460.1 171.9 460.1 178.6 460.6 182.2 C461.2 185.7 461.7 188.6 463.1 191.4 C464.5 194.1 466.5 196.6 469.2 198.5 C472 200.5 474.4 201.3 479.5 203.1 C484.6 204.8 493.1 207.1 500 208.8 C506.8 210.4 510.3 211.3 520.5 212.9 C530.6 214.5 542.9 215.7 561 218.4 C579.1 221.1 614.3 227.1 629 229.3 C643.8 231.4 642.7 230.3 649.5 231.3 C656.3 232.3 663.1 233.9 670 235.4 C676.8 236.9 684.6 238.5 690.5 240.5 C696.3 242.6 700.4 245.5 704.8 247.7 C709.2 249.9 712.6 252 717.1 253.8 C721.5 255.7 725.6 257.3 731.4 259 C737.2 260.7 745.1 262.4 751.9 264.1 C758.7 265.8 766.6 267.5 772.4 269.2 C778.2 270.9 783.1 272.6 786.7 274.3 C790.3 276 793.2 277.6 793.9 279.5 C794.6 281.3 793.4 283.5 790.8 285.6 C788.3 287.6 783.3 289.7 778.5 291.7 C773.7 293.8 767.6 295.8 762.1 297.9 C756.7 299.9 750.2 302 745.8 304 C741.3 306.1 737.8 308.1 735.5 310.2 C733.2 312.2 732.4 313.9 732 316.3 C731.6 318.7 733.3 322 733.1 324.5 C732.8 327.1 732.4 329.5 730.4 331.7 C728.4 333.9 725.4 336 721.2 337.8 C716.9 339.7 711.6 341.3 704.8 342.9 C698 344.6 689.4 345.9 680.2 347.5 C671 349 658 350.9 649.5 352.2 C640.9 353.5 636.8 354.4 629 355.2 C621.2 356.1 613.6 355.8 602.4 357.3 C591.1 358.8 575.1 361.9 561.4 364.5 C547.8 367 530.7 370.4 520.5 372.6 C510.2 374.9 506.1 376 500 377.8 C493.8 379.6 488.4 381.5 483.6 383.5 C478.8 385.6 474.5 387.9 471.3 390.1 C468 392.2 465.8 394.2 464.1 396.2 C462.4 398.3 461.7 399.6 461 402.4 C460.4 405.1 460.3 408 460 412.6 C459.8 417.2 459.7 427.1 459.6 430" fill="none" stroke="#000" stroke-width="3.4" stroke-linejoin="round"/>
<path d="M459.6 6 C459.9 6.2 459.8 5.7 461 7 C462.3 8.4 464.1 11.8 467.2 14.2 C470.3 16.6 474 19 479.5 21.4 C484.9 23.8 493.1 26.5 500 28.5 C506.8 30.6 513.6 32.2 520.5 33.7 C527.3 35.1 534.1 35.9 540.9 37.1 C547.8 38.3 554.6 39.6 561.4 40.8 C568.2 42 575.1 43.1 581.9 44.3 C588.7 45.5 595.6 46.7 602.4 48 C609.2 49.3 618.4 51.1 622.9 52.1 C627.3 53 626.6 52.9 629 53.7 C631.4 54.6 635 55.9 637.2 57.2 C639.4 58.5 642.1 60 642.3 61.7 C642.5 63.4 640.4 65.6 638.2 67.5 C636 69.3 633.3 70.4 629 72.6 C624.7 74.8 617.7 77.9 612.6 80.8 C607.5 83.7 602.7 86.7 598.3 90 C593.8 93.2 589.4 96.8 586 100.2 C582.6 103.6 579.5 107.4 577.8 110.5 C576.1 113.5 576 115.6 575.8 118.7 C575.5 121.7 576.5 125.8 576.2 128.9 C575.8 132 575.1 134 573.7 137.1 C572.3 140.2 569.6 143.9 567.6 147.3 C565.5 150.7 563 154.2 561.4 157.6 C559.9 161 559 164.1 558.3 167.8 C557.7 171.6 557.3 175.7 557.3 180.1 C557.4 184.5 558.2 190 558.8 194.4 C559.3 198.9 559.9 202.8 560.4 206.7 C560.9 210.7 561.3 212.7 561.8 218 C562.3 223.3 563 231.7 563.5 238.5 C563.9 245.3 564 252.8 564.5 259 C565 265.1 565.3 270.2 566.5 275.4 C567.7 280.5 569.1 285.3 571.7 289.7 C574.2 294.1 578.8 298.2 581.9 302 C585 305.7 588.1 309.2 590.1 312.2 C592.1 315.3 593.4 317.7 593.8 320.4 C594.1 323.1 593.8 326.2 592.1 328.6 C590.5 331 587.4 332.6 583.9 334.8 C580.5 336.9 577.1 339 571.7 341.3 C566.2 343.6 558 346.3 551.2 348.7 C544.3 351.1 537.5 353.4 530.7 355.9 C523.9 358.3 517 361 510.2 363.6 C503.4 366.3 495.5 369.1 489.7 371.8 C483.9 374.5 479.1 377.3 475.4 379.8 C471.7 382.3 469.7 384.5 467.6 387 C465.6 389.5 464.2 391.5 463.1 394.8 C462 398 461.5 400.4 461 406.4 C460.6 412.5 460.7 426.9 460.6 431" fill="none" stroke="#ff00ff" stroke-width="3.4" stroke-linejoin="round"/>
</g>
<path d="M526.6 399.9 H553.8" stroke="#808080" stroke-width="5.0" stroke-linecap="round"/>
<path d="M580.7 399.9 H588.4" stroke="#808080" stroke-width="5.0" stroke-linecap="round"/>
<text x="598.6" y="406.4" font-family="'Liberation Serif',serif" font-size="30" textLength="173.5" lengthAdjust="spacingAndGlyphs" stroke="#000" stroke-width="0.3">observations</text>
<g clip-path="url(#clipC)">
<path d="M127.8 793 C128.2 796.3 129.2 806.3 130.3 813 C131.4 819.7 132.9 826.6 134.4 833.4 C135.9 840.2 137.6 847.4 139.5 853.9 C141.4 860.4 143.5 866.9 145.6 872.4 C147.7 877.9 149.6 882.3 151.8 886.7 C154 891.1 156.7 895.8 158.9 899 C161.1 902.2 163.4 904.6 165.1 906.2 C166.8 907.8 167.7 908.5 169.2 908.8 C170.7 909.1 172.1 908.7 174.3 908.2 C176.5 907.7 178.1 906.5 182.5 905.6 C186.9 904.8 194.4 904 200.9 903.1 C207.4 902.2 214.6 901 221.4 900 C228.2 899 235.1 898.3 241.9 897.4 C248.7 896.5 254.5 895.6 262.4 894.5 C270.2 893.4 270.4 894 289 891 C307.6 888 345.7 881.6 374 876.7 C402.3 871.9 443 864.8 459 861.9 C475 859 464.9 860.6 470 859.5 C475.1 858.4 483.7 857 489.7 855.2 C495.7 853.4 502 850.8 506.1 848.8 C510.2 846.8 511.7 845.4 514.5 843.1 C517.3 840.8 520.7 838.2 523.1 835.2 C525.5 832.2 527.2 829.2 528.9 825.1 C530.6 821 532.1 815.9 533.3 810.6 C534.5 805.3 535.3 798.8 536.1 793.3 C536.9 787.8 537.7 777.5 538.3 777.5 C538.9 777.5 539.4 789 539.8 793.3 C540.2 797.6 540.4 801.7 540.5 803.4" fill="none" stroke="#000" stroke-width="3.4" stroke-linejoin="round"/>
<path d="M539.2 790 L539.8 793.3 L541.9 799.8 L546.3 803.4 L554.9 801.9 L565.1 797.6 L575.2 793.3 L581 792.5 L581 793.3 L579.5 796.9 L576.6 801.9 L570.8 806.3 L562.2 812 L553.5 817.1 L547 820 L543.4 818.6 L541.2 813.5 L540.5 803.4 L539.8 793.3Z" fill="#000" stroke="#000" stroke-width="2.0" stroke-linejoin="round"/>
<path d="M581 792.9 C583.9 790.7 593.4 783.4 598.3 779.5 C603.2 775.6 605.5 773.9 610.6 769.5 C615.7 765.1 624.6 756.8 629 753.3 C633.4 749.8 634.5 750.6 637.2 748.4 C639.9 746.2 642.8 743.3 645.4 740.2 C648 737.1 650.4 734.1 652.6 730 C654.8 725.9 656.8 721.2 658.7 715.7 C660.6 710.2 662.3 704 663.8 697.2 C665.3 690.4 666.7 682.6 667.9 674.7 C669.1 666.9 670 659 671 650.1 C672 641.2 672.9 631.4 673.7 621.5 C674.5 611.6 675.1 600.8 675.7 590.7 C676.3 580.6 676.8 567 677.1 561 C677.4 555 677.4 556 677.4 555" fill="none" stroke="#000" stroke-width="3.4" stroke-linejoin="round"/>
<path d="M408 870.5 L427.5 866 L428.5 867" fill="none" stroke="#000" stroke-width="2.0" stroke-linejoin="round"/>
<path d="M127.8 793 C128.2 796.3 129.2 806.3 130.3 813 C131.4 819.7 132.9 826.6 134.4 833.4 C135.9 840.2 137.6 847.4 139.5 853.9 C141.4 860.4 143.5 866.9 145.6 872.4 C147.7 877.9 149.6 882.3 151.8 886.7 C154 891.1 156.7 895.8 158.9 899 C161.1 902.2 163.4 904.6 165.1 906.2 C166.8 907.8 167.7 908.5 169.2 908.8 C170.7 909.1 172.1 908.7 174.3 908.2 C176.5 907.7 178.1 906.5 182.5 905.6 C186.9 904.8 194.4 904 200.9 903.1 C207.4 902.2 214.6 901 221.4 900 C228.2 899 235.1 898.3 241.9 897.4 C248.7 896.5 254.5 895.6 262.4 894.5 C270.2 893.4 270.4 894 289 891 C307.6 888 345.7 881.6 374 876.7 C402.3 871.9 430.7 867 459 861.9 C487.3 856.8 515.7 851.4 544 846 C572.3 840.6 611.4 833 629 829.6 C646.6 826.2 642.7 827.1 649.5 825.7 C656.3 824.3 664.6 822.4 670 821.2 C675.4 820 679.1 819.3 682 818.3 C684.9 817.3 686.4 816.2 687.4 815 C688.4 813.8 686.7 812 688.2 811 C689.7 810 692.8 810.1 696.6 808.9 C700.4 807.7 706.8 805.7 710.9 803.7 C715 801.8 718.3 799.4 721.2 797.2 C724.1 795 727.1 791.6 728.3 790.5 L728.3 790.5 L729.2 802.8 L731.1 802.2 L736.7 792.4 L741.7 783.5 L745 772.4 L747.3 752.3 L748.5 723.4 L749.2 700 L749.6 685.6 L750.4 709 L751.2 715.7 L752.8 713.5 L755.6 697.9 L759.5 689 L764 681.2 L766.2 664.5 L768.4 642.3 L771.2 616 L773.4 580.5 L774.8 561 L775.1 555" fill="none" stroke="#008080" stroke-width="3.4" stroke-linejoin="round"/>
<path d="M127.8 792.3 C128.2 795.6 129.2 805.6 130.3 812.3 C131.4 819 132.9 825.9 134.4 832.7 C135.9 839.5 137.6 846.7 139.5 853.2 C141.4 859.7 143.5 866.2 145.6 871.7 C147.7 877.2 149.6 881.6 151.8 886 C154 890.4 156.7 895 158.9 898.3 C161.1 901.5 163.4 903.9 165.1 905.5 C166.8 907.1 167.7 907.8 169.2 908.1 C170.7 908.4 172.1 908 174.3 907.5 C176.5 907 178.1 905.8 182.5 904.9 C186.9 904 194.4 903.3 200.9 902.4 C207.4 901.5 214.6 900.2 221.4 899.3 C228.2 898.3 235.1 897.6 241.9 896.7 C248.7 895.8 254.5 894.9 262.4 893.8 C270.2 892.7 270.4 893.3 289 890.3 C307.6 887.3 345.7 880.9 374 876 C402.3 871.1 430.7 866.3 459 861.2 C487.3 856.1 515.7 850.7 544 845.3 C572.3 839.9 611.4 832.3 629 828.9 C646.6 825.5 642.7 826.4 649.5 825 C656.3 823.6 663.2 822.1 670 820.5 C676.8 818.9 683.6 817 690.4 815.3 C697.2 813.6 706 811.6 710.9 810.3 C715.8 809 716.6 808.6 720 807.6 C723.4 806.6 727.4 805.8 731.1 804.3 C734.8 802.8 738.8 801.1 742.3 798.8 C745.8 796.4 749.5 793.1 752.3 790.2 C755.1 787.3 757.2 784.3 759 781.3 C760.8 778.3 762.5 773.5 763.2 772 L763.2 772 L764.3 769 L766.2 756.8 L767 734.5 L767.3 712.3 L767.5 690 L767.5 643.9 L768.2 670.1 L769 685.6 L770.6 687.3 L773.4 683.4 L776.2 672.3 L779 653.4 L780.8 627.6 L783 596.9 L785.7 561 L786 555" fill="none" stroke="#e66100" stroke-width="3.4" stroke-linejoin="round"/>
<path d="M120.4 739.6 L121.1 754.1 L121.6 768.6 L122 774.3 L123.5 772 L125.4 771.4 L125.9 774.3 L125.9 774.3 C126.2 777.4 127.1 786.5 127.8 793 C128.5 799.5 129.2 806.3 130.3 813 C131.4 819.7 132.9 826.6 134.4 833.4 C135.9 840.2 137.6 847.4 139.5 853.9 C141.4 860.4 143.5 866.9 145.6 872.4 C147.7 877.9 149.6 882.3 151.8 886.7 C154 891.1 156.7 895.8 158.9 899 C161.1 902.2 163.4 904.6 165.1 906.2 C166.8 907.8 167.7 908.5 169.2 908.8 C170.7 909.1 172.1 908.7 174.3 908.2 C176.5 907.7 178.1 906.5 182.5 905.6 C186.9 904.8 194.4 904 200.9 903.1 C207.4 902.2 214.6 901 221.4 900 C228.2 899 235.1 898.3 241.9 897.4 C248.7 896.5 254.5 895.6 262.4 894.5 C270.2 893.4 270.4 894 289 891 C307.6 888 345.7 881.6 374 876.7 C402.3 871.9 430.7 867 459 861.9 C487.3 856.8 515.7 851.4 544 846 C572.3 840.6 611.4 833 629 829.6 C646.6 826.2 642.7 827.1 649.5 825.7 C656.3 824.3 663.2 822.8 670 821.2 C676.8 819.6 684.6 817.7 690.4 816 C696.2 814.3 700.3 812.8 704.8 810.9 C709.2 809 714.1 806.3 717.1 804.8 C720.1 803.3 720.9 802.7 722.5 801.7 C724.1 800.7 725.5 800 726.7 798.6 C728 797.2 729 795.4 730 793.5 C731 791.6 731.6 790.8 732.4 787.5 C733.2 784.2 734.4 778.6 735 773.5 C735.6 768.4 735.9 762.7 736.1 756.8 C736.4 750.9 736.4 747.5 736.5 738 C736.6 728.5 736.7 706.3 736.7 700" fill="none" stroke="#ff00ff" stroke-width="3.6999999999999997" stroke-linejoin="round"/>
<path d="M736.4 738 L736.6 700 L737.2 660 L737.7 629.5 L738.3 629.5 L739.2 665 L740.4 682.3 L742.3 679 L743.9 676.7 L745.5 679 L746.7 684 L744.5 705 L742.5 724 L740.6 737.5 L738.5 739Z" fill="#ff00ff" stroke="#ff00ff" stroke-width="2.4" stroke-linejoin="round"/>
<path d="M740.8 737 C741.2 733.8 742.4 724.5 743.2 718 C744 711.5 744.9 704 745.8 698 C746.7 692 747.4 689.7 748.4 682.3 C749.4 674.9 750.6 664.4 751.7 653.4 C752.9 642.4 754.4 627.1 755.3 616 C756.2 604.9 756.4 595.8 757 586.6 C757.6 577.4 758.7 566.3 759.1 561 C759.5 555.7 759.4 556 759.4 555" fill="none" stroke="#ff00ff" stroke-width="3.4" stroke-linejoin="round"/>
</g>
<path d="M156.3 637.8 H183" stroke="#000" stroke-width="3.4"/>
<text x="195.1" y="645" fill="#000" stroke="#000" stroke-width="0.15" font-family="'Liberation Serif',serif" font-size="31.5" textLength="33.5" lengthAdjust="spacingAndGlyphs">no</text>
<text x="236.9" y="645" fill="#000" stroke="#000" stroke-width="0.15" font-family="'Liberation Serif',serif" font-size="31.5" textLength="135.3" lengthAdjust="spacingAndGlyphs">overshoot</text>
<path d="M156.3 671.4 H183" stroke="#008080" stroke-width="3.4"/>
<text x="195.1" y="678.8" fill="#008080" stroke="#008080" stroke-width="0.15" font-family="'Liberation Serif',serif" font-size="31.5" textLength="123.4" lengthAdjust="spacingAndGlyphs">standard</text>
<text x="326" y="678.8" fill="#008080" stroke="#008080" stroke-width="0.15" font-family="'Liberation Serif',serif" font-size="31.5" textLength="134.6" lengthAdjust="spacingAndGlyphs">overshoot</text>
<path d="M156.3 703.9 H183" stroke="#e66100" stroke-width="3.4"/>
<text x="195.1" y="712.6" fill="#e66100" stroke="#e66100" stroke-width="0.15" font-family="'Liberation Serif',serif" font-size="31.5" textLength="211.5" lengthAdjust="spacingAndGlyphs">semiconvection</text>
<path d="M156.3 737.2 H183" stroke="#ff00ff" stroke-width="3.4"/>
<text x="195.1" y="746.4" fill="#ff00ff" stroke="#ff00ff" stroke-width="0.15" font-family="'Liberation Serif',serif" font-size="31.5" textLength="113.7" lengthAdjust="spacingAndGlyphs">maximal</text>
<text x="319.8" y="746.4" fill="#ff00ff" stroke="#ff00ff" stroke-width="0.15" font-family="'Liberation Serif',serif" font-size="31.5" textLength="134.7" lengthAdjust="spacingAndGlyphs">overshoot</text>
<path d="M120.2 430 L120.2 419" stroke="#000" stroke-width="2.3"/>
<path d="M120.2 6.1 L120.2 17.1" stroke="#000" stroke-width="2.3"/>
<path d="M176.4 430 L176.4 414" stroke="#000" stroke-width="2.3"/>
<path d="M176.4 6.1 L176.4 22.1" stroke="#000" stroke-width="2.3"/>
<path d="M232.6 430 L232.6 419" stroke="#000" stroke-width="2.3"/>
<path d="M232.6 6.1 L232.6 17.1" stroke="#000" stroke-width="2.3"/>
<path d="M288.7 430 L288.7 414" stroke="#000" stroke-width="2.3"/>
<path d="M288.7 6.1 L288.7 22.1" stroke="#000" stroke-width="2.3"/>
<path d="M344.9 430 L344.9 419" stroke="#000" stroke-width="2.3"/>
<path d="M344.9 6.1 L344.9 17.1" stroke="#000" stroke-width="2.3"/>
<path d="M401 430 L401 414" stroke="#000" stroke-width="2.3"/>
<path d="M401 6.1 L401 22.1" stroke="#000" stroke-width="2.3"/>
<path d="M457.1 6.1 L457.1 17.1" stroke="#000" stroke-width="2.3"/>
<path d="M119 398.6 L135 398.6" stroke="#000" stroke-width="2.3"/>
<path d="M458.5 398.6 L442.5 398.6" stroke="#000" stroke-width="2.3"/>
<path d="M458.5 398.6 L474.5 398.6" stroke="#000" stroke-width="2.3"/>
<path d="M797.6 398.6 L781.6 398.6" stroke="#000" stroke-width="2.3"/>
<path d="M119 298.3 L135 298.3" stroke="#000" stroke-width="2.3"/>
<path d="M458.5 298.3 L442.5 298.3" stroke="#000" stroke-width="2.3"/>
<path d="M458.5 298.3 L474.5 298.3" stroke="#000" stroke-width="2.3"/>
<path d="M797.6 298.3 L781.6 298.3" stroke="#000" stroke-width="2.3"/>
<path d="M119 197.9 L135 197.9" stroke="#000" stroke-width="2.3"/>
<path d="M458.5 197.9 L442.5 197.9" stroke="#000" stroke-width="2.3"/>
<path d="M458.5 197.9 L474.5 197.9" stroke="#000" stroke-width="2.3"/>
<path d="M797.6 197.9 L781.6 197.9" stroke="#000" stroke-width="2.3"/>
<path d="M119 97.6 L135 97.6" stroke="#000" stroke-width="2.3"/>
<path d="M458.5 97.6 L442.5 97.6" stroke="#000" stroke-width="2.3"/>
<path d="M458.5 97.6 L474.5 97.6" stroke="#000" stroke-width="2.3"/>
<path d="M797.6 97.6 L781.6 97.6" stroke="#000" stroke-width="2.3"/>
<path d="M459.5 6.1 L459.5 22.1" stroke="#000" stroke-width="2.3"/>
<path d="M558.5 430 L558.5 414" stroke="#000" stroke-width="2.3"/>
<path d="M558.5 6.1 L558.5 22.1" stroke="#000" stroke-width="2.3"/>
<path d="M657.4 430 L657.4 414" stroke="#000" stroke-width="2.3"/>
<path d="M657.4 6.1 L657.4 22.1" stroke="#000" stroke-width="2.3"/>
<path d="M756.3 430 L756.3 414" stroke="#000" stroke-width="2.3"/>
<path d="M756.3 6.1 L756.3 22.1" stroke="#000" stroke-width="2.3"/>
<path d="M120.1 983.5 L120.1 967.5" stroke="#000" stroke-width="2.3"/>
<path d="M120.1 560.4 L120.1 576.4" stroke="#000" stroke-width="2.3"/>
<path d="M262.2 983.5 L262.2 967.5" stroke="#000" stroke-width="2.3"/>
<path d="M262.2 560.4 L262.2 576.4" stroke="#000" stroke-width="2.3"/>
<path d="M404.3 983.5 L404.3 967.5" stroke="#000" stroke-width="2.3"/>
<path d="M404.3 560.4 L404.3 576.4" stroke="#000" stroke-width="2.3"/>
<path d="M546.4 983.5 L546.4 967.5" stroke="#000" stroke-width="2.3"/>
<path d="M546.4 560.4 L546.4 576.4" stroke="#000" stroke-width="2.3"/>
<path d="M688.5 983.5 L688.5 967.5" stroke="#000" stroke-width="2.3"/>
<path d="M688.5 560.4 L688.5 576.4" stroke="#000" stroke-width="2.3"/>
<path d="M119 982.5 L135 982.5" stroke="#000" stroke-width="2.3"/>
<path d="M797.5 982.5 L781.5 982.5" stroke="#000" stroke-width="2.3"/>
<path d="M119 963.4 L126.8 963.4" stroke="#000" stroke-width="2.3"/>
<path d="M797.5 963.4 L789.7 963.4" stroke="#000" stroke-width="2.3"/>
<path d="M119 944.2 L129.3 944.2" stroke="#000" stroke-width="2.3"/>
<path d="M797.5 944.2 L787.2 944.2" stroke="#000" stroke-width="2.3"/>
<path d="M119 925.1 L126.8 925.1" stroke="#000" stroke-width="2.3"/>
<path d="M797.5 925.1 L789.7 925.1" stroke="#000" stroke-width="2.3"/>
<path d="M119 905.9 L129.3 905.9" stroke="#000" stroke-width="2.3"/>
<path d="M797.5 905.9 L787.2 905.9" stroke="#000" stroke-width="2.3"/>
<path d="M119 886.8 L126.8 886.8" stroke="#000" stroke-width="2.3"/>
<path d="M797.5 886.8 L789.7 886.8" stroke="#000" stroke-width="2.3"/>
<path d="M119 867.6 L129.3 867.6" stroke="#000" stroke-width="2.3"/>
<path d="M797.5 867.6 L787.2 867.6" stroke="#000" stroke-width="2.3"/>
<path d="M119 848.5 L126.8 848.5" stroke="#000" stroke-width="2.3"/>
<path d="M797.5 848.5 L789.7 848.5" stroke="#000" stroke-width="2.3"/>
<path d="M119 829.4 L129.3 829.4" stroke="#000" stroke-width="2.3"/>
<path d="M797.5 829.4 L787.2 829.4" stroke="#000" stroke-width="2.3"/>
<path d="M119 810.2 L126.8 810.2" stroke="#000" stroke-width="2.3"/>
<path d="M797.5 810.2 L789.7 810.2" stroke="#000" stroke-width="2.3"/>
<path d="M119 791.1 L135 791.1" stroke="#000" stroke-width="2.3"/>
<path d="M797.5 791.1 L781.5 791.1" stroke="#000" stroke-width="2.3"/>
<path d="M119 771.9 L126.8 771.9" stroke="#000" stroke-width="2.3"/>
<path d="M797.5 771.9 L789.7 771.9" stroke="#000" stroke-width="2.3"/>
<path d="M119 752.8 L129.3 752.8" stroke="#000" stroke-width="2.3"/>
<path d="M797.5 752.8 L787.2 752.8" stroke="#000" stroke-width="2.3"/>
<path d="M119 733.6 L126.8 733.6" stroke="#000" stroke-width="2.3"/>
<path d="M797.5 733.6 L789.7 733.6" stroke="#000" stroke-width="2.3"/>
<path d="M119 714.5 L129.3 714.5" stroke="#000" stroke-width="2.3"/>
<path d="M797.5 714.5 L787.2 714.5" stroke="#000" stroke-width="2.3"/>
<path d="M119 695.4 L126.8 695.4" stroke="#000" stroke-width="2.3"/>
<path d="M797.5 695.4 L789.7 695.4" stroke="#000" stroke-width="2.3"/>
<path d="M119 676.2 L129.3 676.2" stroke="#000" stroke-width="2.3"/>
<path d="M797.5 676.2 L787.2 676.2" stroke="#000" stroke-width="2.3"/>
<path d="M119 657.1 L126.8 657.1" stroke="#000" stroke-width="2.3"/>
<path d="M797.5 657.1 L789.7 657.1" stroke="#000" stroke-width="2.3"/>
<path d="M119 637.9 L129.3 637.9" stroke="#000" stroke-width="2.3"/>
<path d="M797.5 637.9 L787.2 637.9" stroke="#000" stroke-width="2.3"/>
<path d="M119 618.8 L126.8 618.8" stroke="#000" stroke-width="2.3"/>
<path d="M797.5 618.8 L789.7 618.8" stroke="#000" stroke-width="2.3"/>
<path d="M119 599.6 L135 599.6" stroke="#000" stroke-width="2.3"/>
<path d="M797.5 599.6 L781.5 599.6" stroke="#000" stroke-width="2.3"/>
<path d="M119 580.5 L126.8 580.5" stroke="#000" stroke-width="2.3"/>
<path d="M797.5 580.5 L789.7 580.5" stroke="#000" stroke-width="2.3"/>
<path d="M119 561.4 L129.3 561.4" stroke="#000" stroke-width="2.3"/>
<path d="M797.5 561.4 L787.2 561.4" stroke="#000" stroke-width="2.3"/>
<rect x="119.0" y="6.1" width="678.6" height="423.9" fill="none" stroke="#000" stroke-width="2.3"/>
<path d="M458.5 6.1 L458.5 430" stroke="#000" stroke-width="2.3"/>
<rect x="119.0" y="560.4" width="678.5" height="423.1" fill="none" stroke="#000" stroke-width="2.3"/>
<text x="179.8" y="462.4" font-family="'Liberation Sans',sans-serif" font-size="25.8" text-anchor="middle" >6</text>
<text x="292.1" y="462.4" font-family="'Liberation Sans',sans-serif" font-size="25.8" text-anchor="middle" >8</text>
<text x="404.4" y="462.4" font-family="'Liberation Sans',sans-serif" font-size="25.8" text-anchor="middle" >10</text>
<text x="103.3" y="407.8" font-family="'Liberation Sans',sans-serif" font-size="25.8" text-anchor="end" >150</text>
<text x="103.3" y="307.5" font-family="'Liberation Sans',sans-serif" font-size="25.8" text-anchor="end" >200</text>
<text x="103.3" y="207.1" font-family="'Liberation Sans',sans-serif" font-size="25.8" text-anchor="end" >250</text>
<text x="103.3" y="106.8" font-family="'Liberation Sans',sans-serif" font-size="25.8" text-anchor="end" >300</text>
<text x="558.9" y="462.6" font-family="'Liberation Sans',sans-serif" font-size="25.8" text-anchor="middle" >0.005</text>
<text x="657.8" y="462.6" font-family="'Liberation Sans',sans-serif" font-size="25.8" text-anchor="middle" >0.010</text>
<text x="756.7" y="462.6" font-family="'Liberation Sans',sans-serif" font-size="25.8" text-anchor="middle" >0.015</text>
<text x="123.6" y="1016.3" font-family="'Liberation Sans',sans-serif" font-size="25.8" text-anchor="middle" >0</text>
<text x="265.7" y="1016.3" font-family="'Liberation Sans',sans-serif" font-size="25.8" text-anchor="middle" >50</text>
<text x="407.8" y="1016.3" font-family="'Liberation Sans',sans-serif" font-size="25.8" text-anchor="middle" >100</text>
<text x="549.9" y="1016.3" font-family="'Liberation Sans',sans-serif" font-size="25.8" text-anchor="middle" >150</text>
<text x="692" y="1016.3" font-family="'Liberation Sans',sans-serif" font-size="25.8" text-anchor="middle" >200</text>
<text x="103" y="991.7" font-family="'Liberation Sans',sans-serif" font-size="25.8" text-anchor="end" >1.5</text>
<text x="103" y="800.3" font-family="'Liberation Sans',sans-serif" font-size="25.8" text-anchor="end" >2.0</text>
<text x="103" y="608.9" font-family="'Liberation Sans',sans-serif" font-size="25.8" text-anchor="end" >2.5</text>
<text x="395.8" y="53.4" font-family="'Liberation Sans',sans-serif" font-size="28" textLength="38.4" lengthAdjust="spacingAndGlyphs">(a)</text>
<text x="731.3" y="53.4" font-family="'Liberation Sans',sans-serif" font-size="28" textLength="39.2" lengthAdjust="spacingAndGlyphs">(b)</text>
<text x="148.8" y="599.9" font-family="'Liberation Sans',sans-serif" font-size="28" textLength="37.6" lengthAdjust="spacingAndGlyphs">(c)</text>
<text x="216.0" y="499.7" font-family="'Liberation Serif',serif" font-size="35" textLength="42.4" lengthAdjust="spacingAndGlyphs" stroke="#000" stroke-width="0.3">&#916;&#957;</text>
<text x="279.3" y="499.7" font-family="'Liberation Serif',serif" font-size="35" textLength="91.8" lengthAdjust="spacingAndGlyphs" stroke="#000" stroke-width="0.3">(&#956;Hz)</text>
<text x="425.2" y="499.1" font-family="'Liberation Serif',serif" font-size="35.5" textLength="138.4" lengthAdjust="spacingAndGlyphs" stroke="#000" stroke-width="0.3">Relative</text>
<text x="575" y="499.1" font-family="'Liberation Serif',serif" font-size="35.5" textLength="171.6" lengthAdjust="spacingAndGlyphs" stroke="#000" stroke-width="0.3">frequency</text>
<text x="760.6" y="499.1" font-family="'Liberation Serif',serif" font-size="35.5" textLength="28.4" lengthAdjust="spacingAndGlyphs" stroke="#000" stroke-width="0.3">(s</text>
<text x="789.4" y="487.3" font-family="'Liberation Serif',serif" font-size="23.5" textLength="20.8" lengthAdjust="spacingAndGlyphs" stroke="#000" stroke-width="0.3">-1</text>
<text x="811.8" y="499.1" font-family="'Liberation Serif',serif" font-size="35.5" textLength="10.8" lengthAdjust="spacingAndGlyphs" stroke="#000" stroke-width="0.3">)</text>
<text x="190.1" y="1058.3" font-family="'Liberation Serif',serif" font-size="36" textLength="79.3" lengthAdjust="spacingAndGlyphs" stroke="#000" stroke-width="0.3">Core</text>
<text x="282.9" y="1058.3" font-family="'Liberation Serif',serif" font-size="36" textLength="113.1" lengthAdjust="spacingAndGlyphs" stroke="#000" stroke-width="0.3">helium</text>
<text x="412.1" y="1058.3" font-family="'Liberation Serif',serif" font-size="36" textLength="130.1" lengthAdjust="spacingAndGlyphs" stroke="#000" stroke-width="0.3">burning</text>
<text x="558.8" y="1058.3" font-family="'Liberation Serif',serif" font-size="36" textLength="58.3" lengthAdjust="spacingAndGlyphs" stroke="#000" stroke-width="0.3">age</text>
<text x="632.5" y="1058.3" font-family="'Liberation Serif',serif" font-size="36" textLength="91.6" lengthAdjust="spacingAndGlyphs" stroke="#000" stroke-width="0.3">(Myr)</text>
<g transform="translate(41.2 258.8) rotate(-90)">
<text x="0" y="0" font-family="'Liberation Serif',serif" font-size="37.5" textLength="22.9" lengthAdjust="spacingAndGlyphs" stroke="#000" stroke-width="0.3">&#916;</text>
<text x="24.8" y="0" font-family="'Liberation Serif',serif" font-size="37.5" textLength="27.2" lengthAdjust="spacingAndGlyphs" stroke="#000" stroke-width="0.3">&#928;</text>
<text x="51.2" y="4.6" font-family="'Liberation Sans',sans-serif" font-size="17.5" stroke="#000" stroke-width="0.3" textLength="13.5" lengthAdjust="spacingAndGlyphs">1</text>
<text x="82" y="-1.2" font-family="'Liberation Sans',sans-serif" font-size="34" textLength="36.7" lengthAdjust="spacingAndGlyphs">(s)</text>
</g>
<g transform="translate(46 846.4) rotate(-90)">
<text x="0" y="0" font-family="'Liberation Serif',serif" font-size="37" textLength="52.5" lengthAdjust="spacingAndGlyphs" stroke="#000" stroke-width="0.3">log</text>
<text x="62.3" y="0" font-family="'Liberation Serif',serif" font-size="37" font-style="italic" textLength="22" lengthAdjust="spacingAndGlyphs" stroke="#000" stroke-width="0.3">L</text>
<text x="85.5" y="0" font-family="'Liberation Serif',serif" font-size="37" textLength="13" lengthAdjust="spacingAndGlyphs" stroke="#000" stroke-width="0.3">/</text>
<text x="99.3" y="0" font-family="'Liberation Serif',serif" font-size="37" textLength="21" lengthAdjust="spacingAndGlyphs" stroke="#000" stroke-width="0.3">L</text>
<circle cx="129.2" cy="-1.5" r="7.2" fill="none" stroke="#000" stroke-width="2"/><circle cx="129.2" cy="-1.5" r="1.7" fill="#000"/>
</g>
</svg>
</body></html>
